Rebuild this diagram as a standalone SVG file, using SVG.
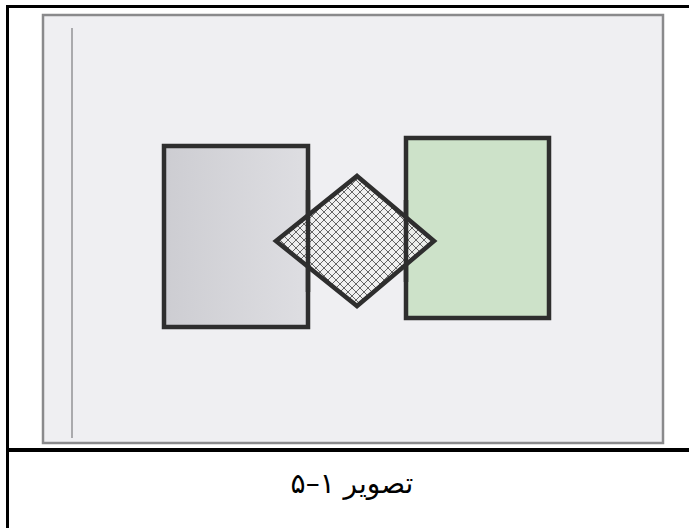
<svg xmlns="http://www.w3.org/2000/svg" width="689" height="528" viewBox="0 0 689 528">
<defs>
<linearGradient id="gGray" x1="0" y1="0" x2="1" y2="0">
<stop offset="0" stop-color="#cdcdd2"/>
<stop offset="1" stop-color="#dedee2"/>
</linearGradient>
<pattern id="hatch" patternUnits="userSpaceOnUse" width="8" height="8">
<path d="M0,0 L8,8 M8,0 L0,8" stroke="#555" stroke-width="0.9" fill="none"/>
</pattern>
<style>
.frame{fill:none;stroke:#000;stroke-width:3}
.photo{fill:#efeff2;stroke:#8a8a8c;stroke-width:2.5}
.shape{stroke:#2e2e2e;stroke-width:4.5;stroke-linejoin:miter}
.edge{stroke:#2e2e2e;stroke-width:4.5}
.cap{font-family:"DejaVu Sans",sans-serif;font-size:28px;fill:#000}
</style>
</defs>
<rect x="0" y="0" width="689" height="528" fill="#fff"/>
<rect class="frame" x="7.5" y="6.5" width="690" height="540"/>
<line x1="7" y1="450" x2="689" y2="450" stroke="#000" stroke-width="4"/>
<g id="photo">
<rect class="photo" x="43" y="15" width="620" height="428"/>
<line x1="72" y1="28" x2="72" y2="438" stroke="#aaaaad" stroke-width="2"/>
</g>
<g id="grayRect">
<rect class="shape" x="164" y="146" width="144" height="181" fill="url(#gGray)"/>
</g>
<g id="greenRect">
<rect class="shape" x="406" y="138" width="143" height="180" fill="#cde2c9"/>
</g>
<g id="diamond">
<path d="M357,176 L434,241 L357,306 L276,241 Z" fill="#f0f0f0" fill-opacity="0.85"/>
<path d="M357,176 L434,241 L357,306 L276,241 Z" fill="url(#hatch)"/>
<line class="edge" x1="308" y1="190" x2="308" y2="292"/>
<line class="edge" x1="406" y1="200" x2="406" y2="282"/>
<path d="M357,176 L434,241 L357,306 L276,241 Z" fill="none" class="shape"/>
</g>
<text class="cap" x="352" y="493" text-anchor="middle" direction="rtl">تصویر ۱–۵</text>
</svg>
